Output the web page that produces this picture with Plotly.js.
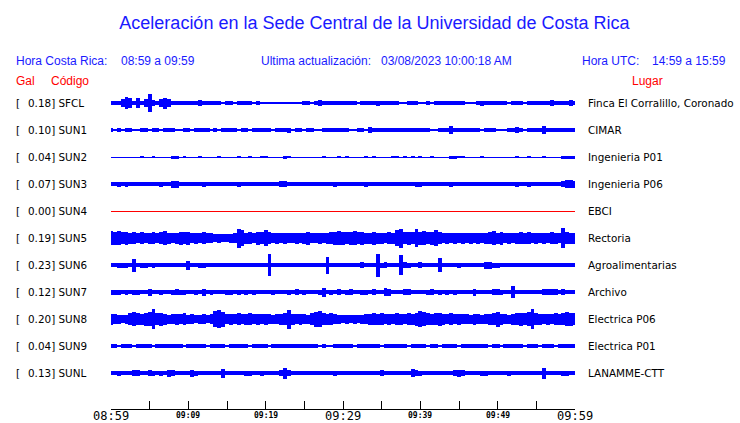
<!DOCTYPE html>
<html><head><meta charset="utf-8">
<script src="https://cdn.plot.ly/plotly-3.0.1.min.js"></script>
<style>
html,body{margin:0;padding:0;background:#fff;}
#chart{width:740px;height:423px;}
.barlayer path,.scatterlayer path{shape-rendering:crispEdges;}
</style></head><body><div id="chart"></div>
<script>
// ---- data ----
const codes  = ["SFCL","SUN1","SUN2","SUN3","SUN4","SUN5","SUN6","SUN7","SUN8","SUN9","SUNL"];
const gal    = [0.18,0.10,0.04,0.07,0.00,0.19,0.23,0.12,0.20,0.04,0.13];
const places = ["Finca El Corralillo, Coronado","CIMAR","Ingenieria P01","Ingenieria P06","EBCI","Rectoria",
                "Agroalimentarias","Archivo","Electrica P06","Electrica P01","LANAMME-CTT"];
const sampleStep = 0.5; // minutes between envelope samples (08:59 -> 09:59)

// envelope half-amplitude (relative units) every 30 s
const sfcl = [1.6,2,1.6,4,6,5,1.6,5,2,4,
 9,3,1.6,4,5.5,4,1.6,1.6,1.6,1.6,
 1.6,1.6,1.6,3,1.8,1.6,1.6,1.6,1.6,1.2,
 1.6,1.6,1.2,1.6,1.6,1.6,1.6,1.2,1.6,0.8,
 0.8,1.4,0.8,0.8,1.2,0.8,1.4,1.4,0.8,1.4,
 1.6,1.6,1.4,1.6,3,1.6,1.6,1.6,1.6,1.6,
 1.6,1.6,1.6,1.6,0.8,1.6,1.6,1.6,1.6,2.5,
 1.6,1.6,1.6,1.6,1.6,0.8,0.8,1.6,1.6,1.6,
 1.2,0.8,1.6,0.8,1.6,1.6,1.6,1.6,1.6,1.6,
 1.6,1.6,0.8,0.8,1.2,1.6,2.5,1.6,1.6,2,
 1.6,1.6,2,0.8,1.6,1.6,1.6,0.8,1.6,1.6,
 1.6,1.6,1.6,1.6,3,1.6,1.6,1.6,1.6,3,1.6];
const sun1 = [1.6,0.7,1.6,0.7,1.6,1.6,0.7,0.7,1.6,1.6,
 0.7,1.6,1.6,0.7,1.6,1.6,1.6,0.7,0.7,1.6,
 1.6,0.7,1.6,1.6,1.6,1.6,0.7,1.6,0.7,1.6,
 1.6,1.6,1.6,0.7,1.6,1.6,0.7,1.6,1.6,1.6,
 1.6,1.6,0.7,1.6,1.6,1.6,2.5,0.7,1.6,1.6,
 0.7,1.6,1.6,0.7,0.7,1.6,1.6,1.6,1.6,1.6,
 1.6,1.6,0.7,0.7,1.6,1.6,0.7,3,1.6,1.6,
 1.6,1.6,1.6,1.8,1.6,1.6,1.6,1.6,1.6,1.6,
 1.6,1.6,1.6,0.7,0.7,1.6,1.6,1.6,4,1.8,
 1.6,1.6,1.6,1.6,1.6,1.6,0.7,1.6,2.2,1.6,
 0.7,0.7,0.7,1.6,1.6,3,1.6,0.7,1.6,1.6,
 1.6,1.6,4,1.8,1.6,1.6,1.6,2.2,1.6,1.6,1.6];
const sun2 = [0.5,0.5,0.5,0.5,0.5,0.5,0.5,0.5,1,0.5,
 0.5,1,0.5,0.5,0.5,0.5,1.5,1.5,0.5,1,
 0.5,0.5,0.5,1.2,0.5,0.5,0.5,0.5,1,0.5,
 0.5,0.5,0.5,1.3,0.5,0.5,1.3,0.5,0.5,1,
 1,0.5,0.5,0.5,0.5,1.5,1,0.5,0.5,0.5,
 0.5,0.5,0.5,0.5,0.5,1.2,0.5,0.5,0.5,1.3,
 0.5,1,0.5,0.5,0.5,0.5,1,0.5,1,0.5,
 0.5,0.5,0.5,1,1,0.5,1,0.5,1,0.5,
 1,0.5,0.5,1,0.5,0.5,0.5,0.5,1.5,1.5,
 1,1,0.5,0.5,0.5,0.5,1,0.5,0.5,0.5,
 0.5,0.5,0.5,0.5,0.5,1,0.5,0.5,1,0.5,
 0.5,0.5,1,0.5,0.5,0.5,0.5,1.5,1.5,1.5,1.5];
const sun3 = [1.7,1.7,2.5,1.7,2.5,1.7,1.7,1.7,1.7,2.2,
 1.7,2.2,1.7,2.5,1.7,1.7,3.5,3.5,1.7,2.2,
 1.7,1.7,2.2,1.7,2.5,1.7,1.7,1.7,1.7,1.7,
 1.7,1.7,1.7,2.5,1.7,1.7,2.2,1.7,2.2,1.7,
 1.7,1.7,1.7,1.7,2.7,2.7,1.7,1.7,1.7,1.7,
 1.7,1.7,1.7,1.7,1.7,2.2,1.7,2.2,2.5,1.7,
 1.7,1.7,1.7,1.7,2.2,1.7,2.5,1.7,2.2,1.7,
 1.7,1.7,1.7,2.3,1.7,1.7,1.7,1.7,1.7,2.5,
 2.5,1.7,1.7,1.7,1.7,1.7,1.7,1.7,2.5,1.7,
 1.7,1.7,1.7,2.2,1.7,1.7,1.7,1.7,2.2,1.7,
 1.7,1.7,2.2,1.7,1.7,2.5,1.7,1.7,2.5,1.7,
 2.2,1.7,2.2,2.2,1.7,1.7,1.7,3,4,4,3.5];
const sun4 = [0,0,0,0,0,0,0,0,0,0,
 0,0,0,0,0,0,0,0,0,0,
 0,0,0,0,0,0,0,0,0,0,
 0,0,0,0,0,0,0,0,0,0,
 0,0,0,0,0,0,0,0,0,0,
 0,0,0,0,0,0,0,0,0,0,
 0,0,0,0,0,0,0,0,0,0,
 0,0,0,0,0,0,0,0,0,0,
 0,0,0,0,0,0,0,0,0,0,
 0,0,0,0,0,0,0,0,0,0,
 0,0,0,0,0,0,0,0,0,0,
 0,0,0,0,0,0,0,0,0,0,0];
const sun5 = [7,6.5,7,6,6.5,5.5,6,5,6,5,
 5.5,6,5,6,7,5.5,5,5.5,6.5,6,
 6.5,5,5.5,5,6,5,5,4,4.5,4,
 4,4.5,5,9.5,8,5.5,6,5,6.5,6,
 8,6,5,5.5,5,5.5,5,5,5.5,5,
 5.5,6.5,5,5,5.5,5,5.5,6,6.5,7,
 6.5,6,6.5,7,6,6.5,5.5,5.5,6.5,5.5,
 5.5,5,6,5.5,8,9.5,6,6.5,6,9,
 6.5,7,6,6.5,8,6,5,5.5,5,5.5,
 5,5.5,5,5.5,5,5.5,5,5.5,6,7,
 5.5,6.5,5,5.5,5,5.5,6,5.5,6,5,
 5.5,5,5.5,5,6,5.5,5,10,6,5.5,5.5];
const sun6 = [1.7,1.7,2.5,2.5,2.5,1.7,6.5,1.7,2.5,2.5,
 1.7,2.5,1.7,1.7,1.7,1.7,1.7,2.2,1.7,1.7,
 4.5,1.7,1.7,2.5,2.5,1.7,1.7,2.2,2.2,1.7,
 1.7,1.7,1.7,1.7,1.7,1.7,2.2,1.7,1.7,2.2,
 1.7,11,1.7,1.7,1.7,1.7,1.7,2.2,1.7,2.2,
 1.7,1.7,1.7,1.7,1.7,1.7,8.5,1.7,1.7,1.7,
 1.7,1.7,1.7,1.7,1.7,3,1.7,1.7,1.7,11.5,
 2.5,3,1.7,1.7,1.7,10,3,2.5,1.7,1.7,
 3,1.7,1.7,1.7,1.7,7,1.7,1.7,1.7,1.7,
 2.5,1.7,1.7,1.7,1.7,1.7,1.7,3.5,3.5,2.5,
 2.5,1.7,1.7,1.7,1.7,2.2,1.7,1.7,1.7,2.2,
 2.2,2.2,1.7,1.7,2.2,1.7,1.7,2.2,1.7,1.7,1.7];
const sun7 = [2.5,2.5,2.5,1.8,2.5,1.8,2.5,2.5,1.8,1.8,
 3.5,1.8,1.8,2.5,1.8,1.8,2.5,3,2.5,2.5,
 1.8,1.8,2.5,1.8,3.5,1.8,2.5,1.8,1.8,1.8,
 2.5,2.5,1.8,2.5,1.8,2.5,1.8,2.5,1.8,1.8,
 1.8,1.8,2.5,1.8,1.8,1.8,2.5,1.8,3,2.2,
 2.5,1.8,1.8,1.8,2.5,4.5,1.8,2.5,1.8,3,
 1.8,2.5,3,1.8,1.8,2.5,2.5,1.8,3,1.8,
 1.8,4,3.5,1.8,1.8,1.8,3,3,1.8,1.8,
 1.8,1.8,2.5,3,1.8,2.5,1.8,2.5,1.8,2.5,
 1.8,1.8,2.2,1.8,3.5,2.2,1.8,2.2,1.8,3,
 3,2.5,1.8,1.8,6,2.2,2.2,1.8,1.8,1.8,
 1.8,1.8,3,3,3,3,1.8,3,1.8,1.8,1.8];
const sun8 = [5.5,5,4.5,4,4.5,6,7,6,5.5,6.5,
 7,10,6,6.5,5.5,4.5,5,5.5,5,6,
 4.5,5,4,4.5,5,4,5,8,9,7.5,
 5,5.5,5,6,5,5.5,6,5,5.5,5,
 5.5,5,4.5,5,5.5,6,9.5,5.5,5,5.5,
 5,4.5,6,7.5,8,6,5.5,6,5,4.5,
 4,4.5,4,4.5,4,4.5,5,5.5,6,5.5,
 6,5,5.5,5,6,5.5,5,6,5.5,6.5,
 8,7,6,5.5,6,6.5,5.5,5,6,5,
 5.5,5,5,4.5,5.5,5,4.5,5,5.5,6,
 7.5,5.5,5,4.5,5.5,6,6.5,6,7,10,
 6,5.5,5,5.5,5,6,5.5,6,7,6.5,6];
const sun9 = [1.6,1.6,0.8,1.6,1.6,1.6,0.8,1.6,1.6,1.6,
 1.6,0.8,1.6,1.6,1.6,1.6,2.2,1.6,1.6,0.8,
 1.6,1.6,1.6,1.6,1.6,0.8,1.6,1.6,1.6,1.6,
 0.8,1.6,1.6,1.6,1.6,1.6,0.8,1.6,1.6,1.6,
 1.6,0.8,1.6,1.6,1.6,1.6,1.6,1.6,1.6,1.6,
 1.6,1.6,1.6,1.6,0.8,1.6,0.8,0.8,1.6,1.6,
 1.6,1.6,1.6,0.8,1.6,1.6,1.6,1.6,1.6,1.6,
 0.8,1.6,1.6,1.6,1.6,1.6,1.6,0.8,1.6,1.6,
 1.6,1.6,0.8,1.6,1.6,0.8,1.6,1.6,1.6,1.6,
 0.8,2.2,1.6,1.6,1.6,1.6,1.6,1.6,0.8,1.6,
 1.6,0.8,1.6,1.6,1.6,1.6,1.6,0.8,1.6,1.6,
 1.6,0.8,1.6,1.6,1.6,0.8,1.6,1.6,2,1.6,1.6];
const sunl = [1.7,1.7,2.5,1.7,1.7,1.7,3,3,1.7,1.7,
 3,2.5,1.7,2.5,1.7,3.5,3,1.7,1.7,1.7,
 1.7,3.5,2.5,1.7,2.2,1.7,2.2,1.7,1.7,4.5,
 1.7,2.2,1.7,1.7,1.7,2.5,2.5,1.7,1.7,2.5,
 1.7,1.7,1.7,1.7,3,5.5,3,1.7,1.7,1.7,
 1.7,2.2,1.7,1.7,2.2,1.7,1.7,1.7,2.5,2.2,
 1.7,1.7,1.7,1.7,2.2,1.7,1.7,2.2,1.7,1.7,
 3,1.7,1.7,1.7,1.7,1.7,1.7,1.7,4,3,
 2.5,1.7,1.7,1.7,1.7,1.7,1.7,1.7,1.7,3,
 3.5,3,1.7,1.7,1.7,1.7,2.5,2.5,1.7,1.7,
 1.7,1.7,1.7,2.5,1.7,1.7,1.7,1.7,1.7,1.7,
 1.7,1.7,5.5,1.7,1.7,1.7,1.7,2.5,2.5,2.2,1.7];
const amps = [sfcl,sun1,sun2,sun3,sun4,sun5,sun6,sun7,sun8,sun9,sunl];

const tickMinutes  = [0,5,10,15,20,25,30,35,40,45,50,55,60];
const labelMinutes = [0,10,20,30,40,50,60];
const tickLabels   = ["08:59","09:09","09:19","09:29","09:39","09:49","09:59"];
const majorLabels  = ["08:59","09:29","09:59"];

const title = "Aceleración en la Sede Central de la Universidad de Costa Rica";
const hdrCR = "08:59 a 09:59", hdrUpd = "03/08/2023 10:00:18 AM", hdrUTC = "14:59 a 15:59";

// ---- layout helpers ----
const W = 740, H = 423, ML = 111, MR = 165, MT = 88, MB = 14;
const PW = W - ML - MR, PH = H - MT - MB;
const rowPx = 27;
const px2x = p => (p - ML) / PW;
const px2y = p => (H - MB - p) / PH;
const BLUE = "#0000ff", TBLUE = "#1a1aff", RED = "#ff0000";

const traces = [];
amps.forEach((a, i) => {
  const n = a.length;
  const allZero = a.every(v => v === 0);
  traces.push({type:"scatter", x:[0,(n-1)*sampleStep], y:[-i,-i], mode:"lines",
    line:{color: allZero ? RED : BLUE, width:1}, hoverinfo:"skip"});
  if (allZero) return;
  const t = a.map((v, j) => j * sampleStep);
  traces.push({type:"bar", x:t, y:a.map(v => 2 * v / rowPx), base:a.map(v => -i - v / rowPx),
    width:sampleStep, marker:{color:BLUE, line:{width:0}}, hoverinfo:"skip"});
});

const ann = [];
function txt(text, px, py, opts) {
  ann.push(Object.assign({text, xref:"paper", yref:"paper", x:px2x(px), y:px2y(py),
    xanchor:"left", yanchor:"middle", showarrow:false, borderpad:0,
    font:{family:"Liberation Sans, Arial, sans-serif", size:12, color:TBLUE}}, opts||{}));
}
txt("Hora Costa Rica:", 15, 61);
txt(hdrCR, 120, 61);
txt("Ultima actualización:", 260, 61);
txt(hdrUpd, 380, 61);
txt("Hora UTC:", 580.5, 61);
txt(hdrUTC, 650.5, 61);
const redF = {family:"Liberation Sans, Arial, sans-serif", size:12, color:RED};
txt("Gal", 15, 81, {font:redF});
txt("Código", 50, 81, {font:redF});
txt("Lugar", 631, 81, {font:redF});

const lblF = {family:"DejaVu Sans, sans-serif", size:10.4, color:"#000"};
codes.forEach((c, i) => {
  const py = 103 + i * rowPx;
  txt("[", 15, py, {font:lblF});
  txt(gal[i].toFixed(2) + "] " + c, 27.3, py, {font:lblF});
  txt(places[i], 587.3, py, {font:lblF});
});

labelMinutes.forEach((m, k) => {
  const lab = tickLabels[k];
  const major = majorLabels.includes(lab);
  ann.push({text: major ? lab : "<b>" + lab + "</b>", xref:"x", yref:"paper", x:m,
    y:px2y(major ? 415.5 : 415), xanchor:"center", yanchor:"middle", showarrow:false, borderpad:0,
    font:{family:"DejaVu Sans Mono, monospace", size: major ? 12 : 8, color:"#000"}});
});

const layout = {
  width:W, height:H, margin:{l:ML, r:MR, t:MT, b:MB, pad:0},
  paper_bgcolor:"#fff", plot_bgcolor:"#fff", showlegend:false,
  barmode:"overlay", bargap:0,
  title:{text:title, font:{family:"Liberation Sans, Arial, sans-serif", size:18, color:TBLUE},
    x:374.5/W, xanchor:"center", y:1 - 23/H, yanchor:"middle", xref:"container", yref:"container"},
  xaxis:{range:[0,60], showgrid:false, zeroline:false, showline:true, linecolor:"#000", linewidth:1,
    ticks:"inside", ticklen:8, tickwidth:1, tickcolor:"#000", tickmode:"array", tickvals:tickMinutes,
    showticklabels:false, fixedrange:true},
  yaxis:{range:[-11.3333, 0.5556], visible:false, fixedrange:true},
  annotations:ann
};
Plotly.newPlot("chart", traces, layout, {staticPlot:true, displayModeBar:false});
</script></body></html>
